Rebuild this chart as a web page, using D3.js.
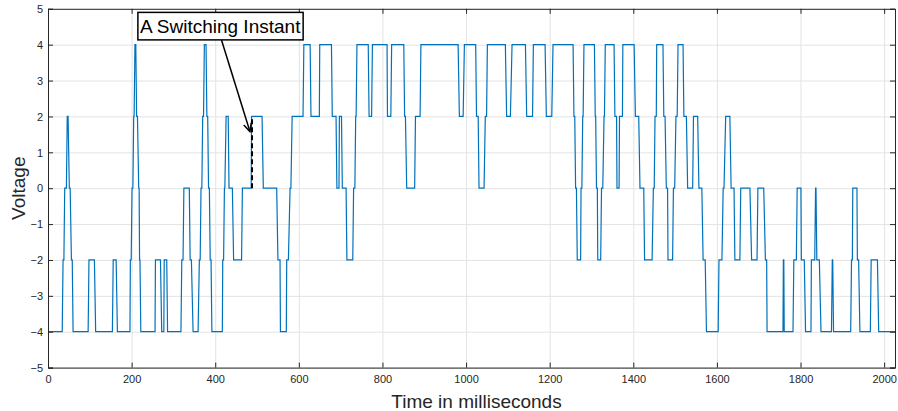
<!DOCTYPE html>
<html>

<head>
    <meta charset="UTF-8">
    <style>
        body { margin: 0; background: #fff; }
        svg { display: block; font-family: Arial, "Liberation Sans", sans-serif; }
        .tick text { fill: #262626; font-size: 11px; }
        .grid line { stroke: #e3e3e3; stroke-width: 1; }
        .grid path { display: none; }
    </style>
</head>

<body>
    <svg></svg>
    <script src="https://d3js.org/d3.v7.min.js"></script>

    <script>

        let width = 898, height = 411;

        // time (ms) and voltage for each vertex of the switching waveform
        const timeMs = [0, 34, 36, 38, 40, 44, 46, 48, 51, 53, 56, 58, 60,
            96, 98, 111, 114, 154, 156, 163, 166,
            196, 197, 199, 201, 203, 205, 206, 208, 210, 212, 214, 217, 218, 219, 220, 222,
            256, 257, 269, 272, 277, 278, 284, 286,
            318, 320, 323, 325, 338, 340, 343, 347,
            359, 362, 364, 366, 368, 370, 372, 374, 378, 380, 382, 384, 386, 388, 390, 392,
            417, 418, 420, 422, 423, 426, 431, 433, 441, 444, 463, 465, 486, 487,
            512, 515, 547, 550, 555, 556, 570, 571, 575, 579, 581, 584, 610, 612, 627, 629, 649, 650, 678, 680,
            689, 691, 696, 697, 702, 704, 713, 715, 729, 731, 734, 736, 737, 739,
            766, 768, 774, 776, 811, 812, 820, 822, 851, 853, 855, 858, 877, 879, 890, 892, 981, 984, 993, 996,
            1023, 1025, 1029, 1031, 1043, 1046, 1049, 1051, 1094, 1097, 1106, 1110, 1142, 1145, 1159, 1161, 1189, 1192, 1205, 1208,
            1256, 1258, 1260, 1262, 1264, 1266, 1274, 1275, 1277, 1279, 1280, 1282, 1307, 1309, 1310, 1312, 1314, 1315, 1322, 1324,
            1327, 1330, 1331, 1333, 1354, 1356, 1360, 1361, 1366, 1367, 1374, 1375, 1402, 1405, 1413, 1416, 1425, 1427, 1445, 1448,
            1450, 1452, 1455, 1456, 1471, 1473, 1476, 1479, 1482, 1483, 1494, 1496,
            1499, 1502, 1505, 1507, 1519, 1521, 1527, 1530, 1542, 1544, 1554, 1557, 1564, 1567, 1572, 1575, 1603, 1605, 1612, 1615,
            1617, 1621, 1631, 1634, 1641, 1643, 1655, 1657, 1679, 1683, 1696, 1698, 1712, 1716, 1719, 1720,
            1758, 1759, 1760, 1761, 1782, 1784, 1790, 1792, 1801, 1802, 1809, 1812, 1825, 1826, 1834, 1836, 1837, 1839, 1845, 1849,
            1874, 1876, 1877, 1879, 1920, 1922, 1924, 1925, 1935, 1936, 1939, 1942, 1967, 1969, 1984, 1987, 2026];

        const voltage = [-4, -4, -2, -2, 0, 0, 2, 2, 0, 0, -2, -2, -4,
            -4, -2, -2, -4, -4, -2, -2, -4,
            -4, -2, -2, 0, 0, 2, 2, 4, 4, 2, 2, 0, 0, -2, -2, -4,
            -4, -2, -2, -4, -4, -2, -2, -4,
            -4, -2, -2, 0, 0, -2, -2, -4,
            -4, -2, -2, 0, 0, 2, 2, 4, 4, 2, 2, 0, 0, -2, -2, -4,
            -4, -2, -2, 0, 0, 2, 2, 0, 0, -2, -2, 0, 0, 2,
            2, 0, 0, -2, -2, -4, -4, -2, -2, 0, 0, 2, 2, 4, 4, 2, 2, 4, 4, 2,
            2, 0, 0, 2, 2, 0, 0, -2, -2, 0, 0, 2, 2, 4,
            4, 2, 2, 4, 4, 2, 2, 4, 4, 2, 2, 0, 0, 2, 2, 4, 4, 2, 2, 4,
            4, 2, 2, 0, 0, 2, 2, 4, 4, 2, 2, 4, 4, 2, 2, 4, 4, 2, 2, 4,
            4, 2, 2, 0, 0, -2, -2, 0, 0, 2, 2, 4, 4, 2, 2, 0, 0, -2, -2, 0,
            0, 2, 2, 4, 4, 2, 2, 0, 0, 2, 2, 4, 4, 2, 2, 0, 0, -2, -2, 0,
            0, 2, 2, 4, 4, 2, 2, 0, 0, -2, -2, 0,
            0, 2, 2, 4, 4, 2, 2, 0, 0, 2, 2, 0, 0, -2, -2, -4, -4, -2, -2, 0,
            0, 2, 2, 0, 0, -2, -2, 0, 0, -2, -2, 0, 0, -2, -2, -4,
            -4, -2, -2, -4, -4, -2, -2, 0, 0, -2, -2, -4, -4, -2, -2, 0, 0, -2, -2, -4,
            -4, -2, -2, -4, -4, -2, -2, 0, 0, -2, -2, -4, -4, -2, -2, -4, -4];

        const xTicks = [0, 200, 400, 600, 800, 1000, 1200, 1400, 1600, 1800, 2000];
        const yTicks = [-5, -4, -3, -2, -1, 0, 1, 2, 3, 4, 5];

        // annotation (data units)
        const noteText = "A Switching Instant";
        const noteBox = { t: 215, v: 4.9 };
        const switchTime = 488;
        const switchFrom = 0, switchTo = 2;
        const arrowTail = [415, 4.13], arrowHead = [483, 1.58];

        let svg = d3.select("svg")
            .attr("width", width)
            .attr("height", height);

        const x = d3.scaleLinear().domain([0, 2026]).range([48, 895]);
        const y = d3.scaleLinear().domain([-5, 5]).range([367.6, 8.8]);

        const pLeft = x.range()[0], pRight = x.range()[1];
        const pTop = y.range()[1], pBottom = y.range()[0];

        // grid
        svg.append("g")
            .attr("class", "grid")
            .attr("transform", "translate(0," + pBottom + ")")
            .call(d3.axisBottom(x).tickValues(xTicks).tickSize(-(pBottom - pTop)).tickFormat(""));
        svg.append("g")
            .attr("class", "grid")
            .attr("transform", "translate(" + pLeft + ",0)")
            .call(d3.axisLeft(y).tickValues(yTicks).tickSize(-(pRight - pLeft)).tickFormat(""));

        // waveform
        const pts = timeMs.map((t, i) => [t, voltage[i]]);
        svg.append("path")
            .datum(pts)
            .attr("fill", "none")
            .attr("stroke", "#0072BD")
            .attr("stroke-width", 1.2)
            .attr("d", d3.line().x(d => x(d[0])).y(d => y(d[1])));

        // axes (MATLAB style box, inward ticks)
        const axisColor = "#262626";
        let gx = svg.append("g")
            .attr("transform", "translate(0," + pBottom + ")")
            .call(d3.axisBottom(x).tickValues(xTicks).tickSize(-5).tickPadding(8).tickFormat(d3.format("d")));
        let gy = svg.append("g")
            .attr("transform", "translate(" + pLeft + ",0)")
            .call(d3.axisLeft(y).tickValues(yTicks).tickSize(-5).tickPadding(5).tickFormat(d3.format("d")));
        let gxt = svg.append("g")
            .attr("transform", "translate(0," + pTop + ")")
            .call(d3.axisTop(x).tickValues(xTicks).tickSize(-5).tickFormat(""));
        let gyr = svg.append("g")
            .attr("transform", "translate(" + pRight + ",0)")
            .call(d3.axisRight(y).tickValues(yTicks).tickSize(-5).tickFormat(""));

        [gx, gy, gxt, gyr].forEach(g => {
            g.select(".domain").attr("stroke", axisColor).attr("stroke-width", 1);
            g.selectAll(".tick line").attr("stroke", axisColor);
        });
        gy.selectAll(".tick text").attr("dy", "0.34em");

        // axis labels
        svg.append("text")
            .attr("x", (pLeft + pRight) / 2 + 5)
            .attr("y", 408)
            .attr("text-anchor", "middle")
            .style("font-size", "19px")
            .style("fill", axisColor)
            .text("Time in milliseconds");

        svg.append("text")
            .attr("transform", "translate(25," + ((pTop + pBottom) / 2) + ") rotate(-90)")
            .attr("text-anchor", "middle")
            .style("font-size", "19px")
            .style("fill", axisColor)
            .text("Voltage");

        // annotation: dashed marker at the switching instant
        svg.append("line")
            .attr("x1", x(switchTime)).attr("x2", x(switchTime))
            .attr("y1", y(switchFrom)).attr("y2", y(switchTo))
            .attr("stroke", "#000")
            .attr("stroke-width", 2)
            .attr("stroke-dasharray", "5,3");

        // arrow
        const ax1 = x(arrowTail[0]), ay1 = y(arrowTail[1]);
        const ax2 = x(arrowHead[0]), ay2 = y(arrowHead[1]);
        svg.append("line")
            .attr("x1", ax1).attr("y1", ay1)
            .attr("x2", ax2).attr("y2", ay2)
            .attr("stroke", "#000")
            .attr("stroke-width", 1.5);
        const ang = Math.atan2(ay2 - ay1, ax2 - ax1);
        const hl = 9, hw = 0.45;
        svg.append("path")
            .attr("d", d3.line()([
                [ax2 - hl * Math.cos(ang - hw), ay2 - hl * Math.sin(ang - hw)],
                [ax2, ay2],
                [ax2 - hl * Math.cos(ang + hw), ay2 - hl * Math.sin(ang + hw)]
            ]))
            .attr("fill", "none")
            .attr("stroke", "#000")
            .attr("stroke-width", 1.5);

        // text box
        let note = svg.append("g");
        let noteLabel = note.append("text")
            .attr("x", x(noteBox.t) + 2)
            .attr("y", y(noteBox.v) + 21)
            .style("font-size", "19px")
            .style("fill", "#000")
            .text(noteText);
        const bb = noteLabel.node().getBBox();
        note.insert("rect", "text")
            .attr("x", x(noteBox.t))
            .attr("y", y(noteBox.v))
            .attr("width", bb.width + 4)
            .attr("height", 27.5)
            .attr("fill", "#fff")
            .attr("stroke", "#000")
            .attr("stroke-width", 1.5);

    </script>

</body>

</html>
